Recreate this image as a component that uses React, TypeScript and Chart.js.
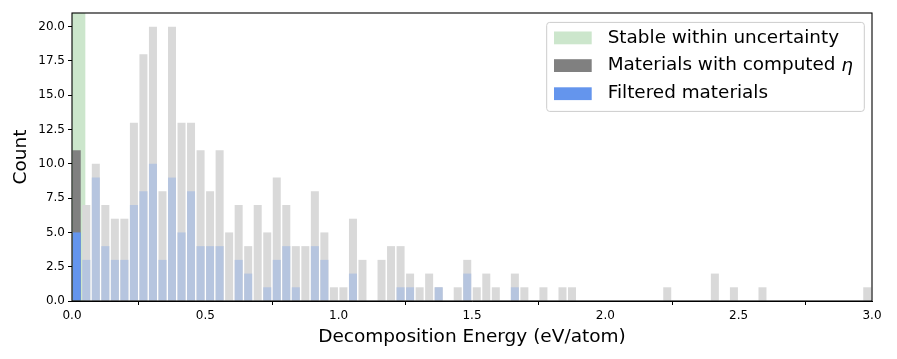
import React, { useEffect, useRef } from "react";
import { Chart, registerables } from "chart.js";

Chart.register(...registerables);

// Histogram: 84 bins over [0, 3.0] eV/atom
const BIN_COUNT = 84;
const X_MIN = 0;
const X_MAX = 3.0;
const STABLE_RANGE = [0, 0.05];

const computedCounts = [
  11, 7, 10, 7, 6, 6, 13, 18, 20, 8, 20, 13, 13, 11, 8, 11, 5, 7, 4, 7, 5, 9,
  7, 4, 4, 8, 5, 1, 1, 6, 3, 0, 3, 4, 4, 2, 1, 2, 1, 0, 1, 3, 1,
  2, 1, 0, 2, 1, 0, 1, 0, 1, 1,
  0, 0, 0, 0, 0, 0, 0, 0, 0, 1, 0, 0, 0, 0, 2, 0, 1, 0, 0, 1,
  0, 0, 0, 0, 0, 0, 0, 0, 0, 0, 1,
];

const filteredCounts = [
  5, 3, 9, 4, 3, 3, 7, 8, 10, 3, 9, 5, 8, 4, 4, 4, 0, 3, 2, 0, 1, 3,
  4, 1, 0, 4, 3, 0, 0, 2, 0, 0, 0, 0, 1, 1, 0, 0, 1, 0, 0, 2, 0,
  0, 0, 0, 1, 0, 0, 0, 0, 0, 0,
  0, 0, 0, 0, 0, 0, 0, 0, 0, 0, 0, 0, 0, 0, 0, 0, 0, 0, 0, 0,
  0, 0, 0, 0, 0, 0, 0, 0, 0, 0, 0,
];

const xTickValues = [0, 0.5, 1.0, 1.5, 2.0, 2.5, 3.0];
const yTickValues = [0, 2.5, 5, 7.5, 10, 12.5, 15, 17.5, 20];

const legendLabels = ["Stable within uncertainty", "Materials with computed ", "Filtered materials"];
const xTitle = "Decomposition Energy (eV/atom)";
const yTitle = "Count";

const GREEN = "#cce6cc";
const GRAY_DARK = "#808080";
const GRAY_LIGHT = "#d9d9d9";
const BLUE_DARK = "#6495ed";
const BLUE_LIGHT = "#b6c5df";
const FONT = "'DejaVu Sans', sans-serif";

const binWidth = (X_MAX - X_MIN) / BIN_COUNT;
const centers = computedCounts.map((_, i) => X_MIN + (i + 0.5) * binWidth);

export default function App() {
  const ref = useRef<HTMLCanvasElement | null>(null);

  useEffect(() => {
    if (!ref.current) return;

    const overlay = {
      id: "overlay",
      beforeDatasetsDraw(chart: any) {
        const { ctx, chartArea, scales } = chart;
        const x = scales.x;
        const x0 = x.getPixelForValue(STABLE_RANGE[0]);
        const x1 = x.getPixelForValue(STABLE_RANGE[1]);
        ctx.save();
        ctx.fillStyle = GREEN;
        ctx.fillRect(x0, chartArea.top, x1 - x0, chartArea.bottom - chartArea.top);
        ctx.restore();
      },
      afterDraw(chart: any) {
        const { ctx, chartArea } = chart;
        const { left, right, top, bottom } = chartArea;
        ctx.save();
        // frame
        ctx.strokeStyle = "#000";
        ctx.lineWidth = 1.1;
        ctx.strokeRect(left, top, right - left, bottom - top);

        // axis titles
        ctx.fillStyle = "#000";
        ctx.font = `18.5px ${FONT}`;
        ctx.textAlign = "center";
        ctx.textBaseline = "middle";
        ctx.fillText(xTitle, (left + right) / 2, bottom + 36);
        ctx.save();
        ctx.translate(21, (top + bottom) / 2);
        ctx.rotate(-Math.PI / 2);
        ctx.fillText(yTitle, 0, 0);
        ctx.restore();

        // legend
        const lx0 = right - 7.7;
        const lw = 317.6;
        const lx = lx0 - lw;
        const ly = top + 9.4;
        const lh = 89;
        const r = 3;
        ctx.beginPath();
        ctx.moveTo(lx + r, ly);
        ctx.lineTo(lx + lw - r, ly);
        ctx.quadraticCurveTo(lx + lw, ly, lx + lw, ly + r);
        ctx.lineTo(lx + lw, ly + lh - r);
        ctx.quadraticCurveTo(lx + lw, ly + lh, lx + lw - r, ly + lh);
        ctx.lineTo(lx + r, ly + lh);
        ctx.quadraticCurveTo(lx, ly + lh, lx, ly + lh - r);
        ctx.lineTo(lx, ly + r);
        ctx.quadraticCurveTo(lx, ly, lx + r, ly);
        ctx.closePath();
        ctx.fillStyle = "rgba(255,255,255,0.8)";
        ctx.fill();
        ctx.strokeStyle = "#cccccc";
        ctx.lineWidth = 1;
        ctx.stroke();

        const colors = [GREEN, GRAY_DARK, BLUE_DARK];
        const rowY = [ly + 15.5, ly + 43.2, ly + 71.3];
        ctx.textAlign = "left";
        ctx.textBaseline = "middle";
        for (let i = 0; i < 3; i++) {
          ctx.fillStyle = colors[i];
          ctx.fillRect(lx + 7.3, rowY[i] - 6.4, 37.7, 12.8);
          ctx.fillStyle = "#000";
          ctx.font = `18.4px ${FONT}`;
          ctx.fillText(legendLabels[i], lx + 61, rowY[i]);
          if (i === 1) {
            const w = ctx.measureText(legendLabels[i]).width;
            ctx.font = `italic 18.4px ${FONT}`;
            ctx.fillText("\u03b7", lx + 61 + w, rowY[i] + 1);
          }
        }
        ctx.restore();
      },
    };

    const chart = new Chart(ref.current, {
      type: "bar",
      data: {
        datasets: [
          {
            label: "Filtered materials",
            data: centers.map((c, i) => ({ x: c, y: filteredCounts[i] })),
            backgroundColor: filteredCounts.map((_, i) => (i === 0 ? BLUE_DARK : BLUE_LIGHT)),
            borderWidth: 0,
            grouped: false,
            categoryPercentage: 1,
            barPercentage: 0.84,
          } as any,
          {
            label: "Materials with computed η",
            data: centers.map((c, i) => ({ x: c, y: computedCounts[i] })),
            backgroundColor: computedCounts.map((_, i) => (i === 0 ? GRAY_DARK : GRAY_LIGHT)),
            borderWidth: 0,
            grouped: false,
            categoryPercentage: 1,
            barPercentage: 0.84,
          } as any,
        ],
      },
      options: {
        responsive: false,
        animation: false,
        devicePixelRatio: 1,
        layout: { padding: { top: 13, right: 25, left: 0, bottom: 0 } },
        plugins: { legend: { display: false }, tooltip: { enabled: false } },
        scales: {
          x: {
            type: "linear",
            min: X_MIN,
            max: X_MAX,
            offset: false,
            afterBuildTicks: (s: any) => {
              s.ticks = xTickValues.map((v) => ({ value: v }));
            },
            afterFit: (s: any) => {
              s.height = 58;
            },
            ticks: {
              color: "#000",
              font: { family: FONT, size: 12 },
              padding: 4,
              maxRotation: 0,
              autoSkip: false,
              callback: (v: any) => Number(v).toFixed(1),
            },
            grid: { display: true, drawOnChartArea: false, tickLength: 4, color: "#000", tickWidth: 1 },
            border: { display: true, color: "#000", width: 1 },
          },
          y: {
            type: "linear",
            min: 0,
            max: 21,
            afterBuildTicks: (s: any) => {
              s.ticks = yTickValues.map((v) => ({ value: v }));
            },
            afterFit: (s: any) => {
              s.width = 72;
            },
            ticks: {
              color: "#000",
              font: { family: FONT, size: 12 },
              padding: 3,
              autoSkip: false,
              callback: (v: any) => Number(v).toFixed(1),
            },
            grid: { display: true, drawOnChartArea: false, tickLength: 4, color: "#000", tickWidth: 1 },
            border: { display: true, color: "#000", width: 1 },
          },
        },
      } as any,
      plugins: [overlay],
    });

    return () => chart.destroy();
  }, []);

  return (
    <div style={{ position: "fixed", left: 0, top: 0, width: 897, height: 359, background: "#fff" }}>
      <canvas ref={ref} width={897} height={359} style={{ display: "block", width: 897, height: 359 }} />
    </div>
  );
}
